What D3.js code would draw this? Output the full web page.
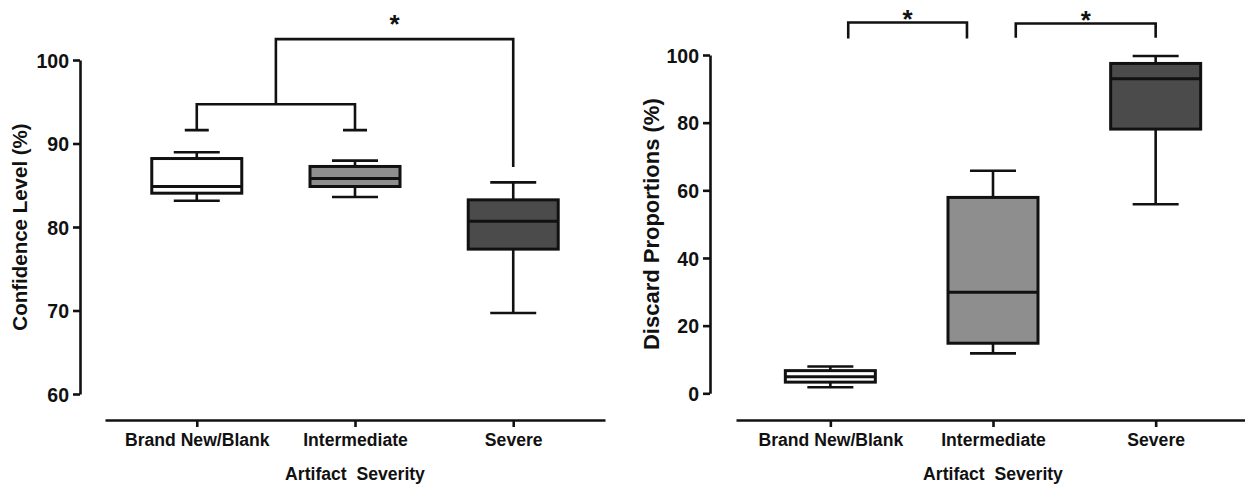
<!DOCTYPE html>
<html>
<head>
<meta charset="utf-8">
<script src="https://cdn.jsdelivr.net/npm/d3@7"></script>
<style>
  html, body { margin: 0; padding: 0; background: #fff; }
  svg { display: block; }
  text { font-family: "Liberation Sans", Arial, Helvetica, sans-serif; font-weight: bold; fill: #111; }
</style>
</head>
<body>
<svg id="chart" width="1245" height="486"></svg>
<script>
// ---------- DATA ----------
const categories = ["Brand New/Blank", "Intermediate", "Severe"];
const fills = ["#ffffff", "#8e8e8e", "#4b4b4b"];

// Confidence Level (%) — whisker low, Q1, median, Q3, whisker high
const confMin    = [83.15, 83.6, 69.7];
const confQ1     = [84.05, 84.85, 77.35];
const confMedian = [84.85, 85.8, 80.7];
const confQ3     = [88.2, 87.25, 83.25];
const confMax    = [88.95, 87.95, 85.35];
const confTicks  = [60, 70, 80, 90, 100];

// Discard Proportions (%)
const discMin    = [1.8, 11.8, 55.9];
const discQ1     = [3.3, 14.8, 78.1];
const discMedian = [4.9, 29.9, 93.0];
const discQ3     = [6.7, 57.9, 97.5];
const discMax    = [7.9, 65.8, 99.7];
const discTicks  = [0, 20, 40, 60, 80, 100];

const xTitle = "Artifact  Severity";
const confLabel = "Confidence Level (%)";
const discLabel = "Discard Proportions (%)";

// Significance annotations
// left: group(Brand New, Intermediate) vs Severe
const confGroupCap = 91.6, confGroupBar = 94.7, confTopBar = 102.5, confSevereEnd = 87.2;
// right: simple brackets
const discBrackets = [
  {from: 0, fromOff: 0.11, to: 1, toOff: -0.16, top: 109.6, bottom: 104.9},
  {from: 1, fromOff: 0.14, to: 2, toOff: 0.0,  top: 109.3, bottom: 105.1}
];

// ---------- DRAW ----------
const svg = d3.select("#chart");
const stroke = "#111";

function panel(opts) {
  const g = svg.append("g");
  const x = d3.scalePoint().domain(categories).range(opts.xRange).padding(0.58);
  const y = d3.scaleLinear().domain(opts.yDomain).range(opts.yRange);
  const boxW = 90, capW = 46;

  // y axis
  const ya = g.append("g").attr("transform", `translate(${opts.yAxisX},0)`)
    .call(d3.axisLeft(y).tickValues(opts.ticks).tickSize(7).tickSizeOuter(0).tickPadding(4));
  ya.select(".domain").attr("stroke", stroke).attr("stroke-width", 2.6);
  ya.selectAll(".tick line").attr("stroke", stroke).attr("stroke-width", 2.6);
  ya.selectAll(".tick text").style("font-size", "19.5px").attr("fill", "#111").attr("dy", "0.36em");

  // x axis
  const xa = g.append("g").attr("transform", `translate(0,${opts.xAxisY})`)
    .call(d3.axisBottom(x).tickSize(7).tickSizeOuter(0).tickPadding(7));
  xa.select(".domain").attr("stroke", stroke).attr("stroke-width", 2.6);
  xa.selectAll(".tick line").attr("stroke", stroke).attr("stroke-width", 2.6);
  xa.selectAll(".tick text").style("font-size", "17.6px").attr("fill", "#111");

  // axis titles
  g.append("text").attr("x", x(categories[1])).attr("y", 480)
    .attr("text-anchor", "middle").style("font-size", "17.6px").style("white-space", "pre")
    .text(xTitle);
  const yMid = (opts.yRange[0] + opts.yRange[1]) / 2;
  g.append("text").attr("transform", `translate(${opts.yLabelX},${yMid}) rotate(-90)`)
    .attr("text-anchor", "middle").style("font-size", opts.yLabelSize).text(opts.yLabel);

  // boxes
  categories.forEach((c, i) => {
    const cx = x(c);
    const bg = g.append("g");
    bg.append("line").attr("x1", cx).attr("x2", cx).attr("y1", y(opts.max[i])).attr("y2", y(opts.q3[i]))
      .attr("stroke", stroke).attr("stroke-width", 2.6);
    bg.append("line").attr("x1", cx).attr("x2", cx).attr("y1", y(opts.q1[i])).attr("y2", y(opts.min[i]))
      .attr("stroke", stroke).attr("stroke-width", 2.6);
    [opts.max[i], opts.min[i]].forEach(v => {
      bg.append("line").attr("x1", cx - capW / 2).attr("x2", cx + capW / 2).attr("y1", y(v)).attr("y2", y(v))
        .attr("stroke", stroke).attr("stroke-width", 2.6);
    });
    bg.append("rect").attr("x", cx - boxW / 2).attr("width", boxW)
      .attr("y", y(opts.q3[i])).attr("height", y(opts.q1[i]) - y(opts.q3[i]))
      .attr("fill", fills[i]).attr("stroke", stroke).attr("stroke-width", 3);
    bg.append("line").attr("x1", cx - boxW / 2).attr("x2", cx + boxW / 2)
      .attr("y1", y(opts.median[i])).attr("y2", y(opts.median[i]))
      .attr("stroke", stroke).attr("stroke-width", 3);
  });
  return {g, x, y};
}

// Left panel
const L = panel({
  xRange: [105, 605], yDomain: [60, 100], yRange: [394, 60], yAxisX: 80, xAxisY: 420,
  ticks: confTicks, yLabel: confLabel, yLabelX: 27, yLabelSize: "20.5px",
  min: confMin, q1: confQ1, median: confMedian, q3: confQ3, max: confMax
});
{
  const {g, x, y} = L;
  const x0 = x(categories[0]), x1 = x(categories[1]), x2 = x(categories[2]);
  const mid = (x0 + x1) / 2;
  const capW = 24;
  const path = d3.path();
  path.moveTo(x0, y(confGroupCap)); path.lineTo(x0, y(confGroupBar)); path.lineTo(x1, y(confGroupBar)); path.lineTo(x1, y(confGroupCap));
  path.moveTo(mid, y(confGroupBar)); path.lineTo(mid, y(confTopBar)); path.lineTo(x2, y(confTopBar)); path.lineTo(x2, y(confSevereEnd));
  [x0, x1].forEach(cx => { path.moveTo(cx - capW / 2, y(confGroupCap)); path.lineTo(cx + capW / 2, y(confGroupCap)); });
  g.append("path").attr("d", path.toString()).attr("fill", "none").attr("stroke", stroke).attr("stroke-width", 2.6);
  g.append("text").attr("x", (mid + x2) / 2).attr("y", y(confTopBar) - 6).attr("text-anchor", "middle")
    .style("font-size", "26px").text("*");
}

// Right panel
const R = panel({
  xRange: [736, 1250], yDomain: [0, 100], yRange: [393.3, 55], yAxisX: 710, xAxisY: 420,
  ticks: discTicks, yLabel: discLabel, yLabelX: 659, yLabelSize: "22px",
  min: discMin, q1: discQ1, median: discMedian, q3: discQ3, max: discMax
});
{
  const {g, x, y} = R;
  const step = x.step();
  discBrackets.forEach(b => {
    const xa = x(categories[b.from]) + b.fromOff * step;
    const xb = x(categories[b.to]) + b.toOff * step;
    const path = d3.path();
    path.moveTo(xa, y(b.bottom)); path.lineTo(xa, y(b.top)); path.lineTo(xb, y(b.top)); path.lineTo(xb, y(b.bottom));
    g.append("path").attr("d", path.toString()).attr("fill", "none").attr("stroke", stroke).attr("stroke-width", 2.6);
    g.append("text").attr("x", (xa + xb) / 2).attr("y", y(b.top) + 5).attr("text-anchor", "middle")
      .style("font-size", "26px").text("*");
  });
}
</script>
</body>
</html>
